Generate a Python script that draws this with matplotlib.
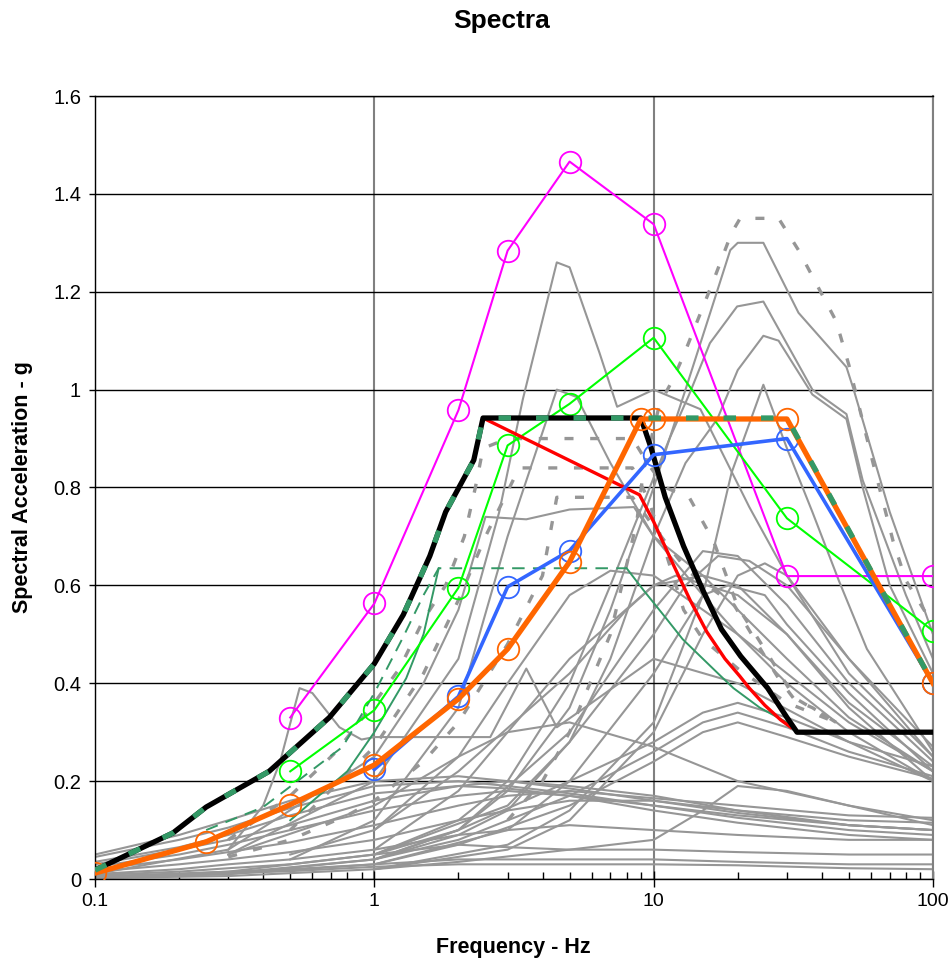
import matplotlib
matplotlib.use("Agg")
import matplotlib.pyplot as plt
from matplotlib.ticker import NullFormatter, LogLocator

plt.rcParams['font.family'] = ['Liberation Sans', 'DejaVu Sans']
plt.rcParams['lines.scale_dashes'] = False

# ---- highlighted spectra (frequency in Hz, acceleration in g) ----
magenta_f = [0.5, 1, 2, 3, 5, 10, 30, 100]
magenta_v = [0.33, 0.563, 0.958, 1.284, 1.466, 1.338, 0.619, 0.619]

lime_f = [0.5, 1, 2, 3, 5, 10, 30, 100]
lime_v = [0.22, 0.345, 0.595, 0.886, 0.971, 1.106, 0.737, 0.507]

blue_f = [1, 2, 3, 5, 10, 30, 100]
blue_v = [0.224, 0.373, 0.597, 0.671, 0.867, 0.90, 0.40]

orange_f = [0.1, 0.25, 0.5, 1, 2, 3, 5, 9, 10, 30, 100]
orange_v = [0.012, 0.076, 0.152, 0.233, 0.368, 0.47, 0.648, 0.94, 0.94, 0.94, 0.40]

black_f = [0.1, 0.19, 0.25, 0.42, 0.69, 1, 1.27, 1.58, 1.8, 2.27, 2.45, 9,
           9.8, 11, 12.8, 15, 17.5, 20.5, 25.6, 30, 32.6, 100]
black_v = [0.018, 0.094, 0.147, 0.22, 0.33, 0.44, 0.54, 0.66, 0.75, 0.856, 0.942, 0.942,
           0.88, 0.78, 0.68, 0.59, 0.51, 0.455, 0.39, 0.33, 0.30, 0.30]

envelope_f = [0.1, 0.19, 0.25, 0.42, 0.69, 1, 1.27, 1.58, 1.8, 2.27, 2.45, 30, 100]
envelope_v = [0.018, 0.094, 0.147, 0.22, 0.33, 0.44, 0.54, 0.66, 0.75, 0.856, 0.942, 0.942, 0.40]

red_f = [2.45, 8.9, 10, 11.7, 13.5, 15.5, 18, 20.3, 22, 25, 28.5, 31]
red_v = [0.942, 0.785, 0.73, 0.645, 0.57, 0.505, 0.45, 0.415, 0.39, 0.355, 0.325, 0.31]

sg_dash_f = [0.25, 0.4, 0.77, 1, 1.27, 1.5, 1.7, 8]
sg_dash_v = [0.10, 0.147, 0.27, 0.38, 0.495, 0.58, 0.635, 0.635]

sg_solid_f = [0.5, 0.8, 1, 1.3, 1.5, 1.7]
sg_solid_v = [0.12, 0.22, 0.30, 0.41, 0.50, 0.635]

sg_tail_f = [8, 9.2, 11, 12.7, 15, 17, 19.3, 24, 30, 32.6]
sg_tail_v = [0.635, 0.59, 0.535, 0.49, 0.45, 0.42, 0.39, 0.35, 0.32, 0.30]

# ---- grey background spectra ----
low_f = [0.1, 0.2, 0.3, 0.5, 1, 2, 3, 5, 10, 20, 50, 100]
grey_low = [
    [0.05, 0.09, 0.12, 0.16, 0.20, 0.21, 0.20, 0.185, 0.16, 0.135, 0.11, 0.10],
    [0.045, 0.08, 0.105, 0.145, 0.19, 0.20, 0.19, 0.175, 0.15, 0.125, 0.10, 0.09],
    [0.03, 0.06, 0.08, 0.11, 0.16, 0.19, 0.20, 0.19, 0.17, 0.14, 0.12, 0.115],
    [0.02, 0.04, 0.055, 0.075, 0.11, 0.15, 0.17, 0.18, 0.165, 0.15, 0.13, 0.125],
    [0.015, 0.03, 0.04, 0.055, 0.08, 0.12, 0.14, 0.16, 0.16, 0.14, 0.11, 0.10],
    [0.01, 0.02, 0.03, 0.04, 0.06, 0.09, 0.10, 0.11, 0.10, 0.09, 0.08, 0.08],
    [0.005, 0.01, 0.015, 0.02, 0.03, 0.04, 0.04, 0.04, 0.04, 0.035, 0.03, 0.03],
    [0.004, 0.008, 0.012, 0.016, 0.025, 0.03, 0.03, 0.03, 0.03, 0.028, 0.022, 0.02],
    [0.008, 0.015, 0.022, 0.03, 0.05, 0.07, 0.065, 0.06, 0.06, 0.055, 0.05, 0.05],
    [0.035, 0.065, 0.09, 0.13, 0.175, 0.19, 0.185, 0.17, 0.14, 0.115, 0.09, 0.08],
    [0.025, 0.05, 0.07, 0.10, 0.14, 0.17, 0.18, 0.17, 0.15, 0.13, 0.11, 0.10],
]

hump_f = [0.1, 0.3, 1, 2, 5, 10, 15, 20, 30, 50, 100]
grey_hump = [
    [0.005, 0.015, 0.05, 0.10, 0.20, 0.28, 0.34, 0.36, 0.33, 0.28, 0.23],
    [0.004, 0.012, 0.04, 0.08, 0.17, 0.26, 0.32, 0.34, 0.31, 0.26, 0.21],
    [0.003, 0.01, 0.03, 0.07, 0.15, 0.24, 0.30, 0.32, 0.29, 0.25, 0.205],
    [0.002, 0.006, 0.02, 0.035, 0.06, 0.08, 0.14, 0.19, 0.18, 0.15, 0.11],
]

grey_other = [
    ([0.3, 1, 2, 3, 5, 10, 20, 50, 100],
     [0.05, 0.15, 0.25, 0.30, 0.32, 0.27, 0.20, 0.15, 0.12]),
    ([0.1, 0.3, 1, 2, 3, 5, 7, 10, 13, 16, 18.8, 20, 24.7, 33, 49, 52, 70, 100],
     [0.002, 0.01, 0.04, 0.10, 0.18, 0.35, 0.55, 0.80, 1.0, 1.16, 1.285, 1.30, 1.30,
      1.157, 1.046, 1.0, 0.75, 0.50]),
    ([1, 2, 3, 5, 7, 10, 11.4, 13.4, 15.9, 19.9, 24.7, 37, 49, 56, 80, 100],
     [0.05, 0.12, 0.20, 0.40, 0.60, 0.82, 0.90, 0.99, 1.095, 1.17, 1.18, 1.0, 0.95,
      0.815, 0.58, 0.45]),
    ([1, 2, 3, 5, 7, 10, 13, 16.9, 20, 24.7, 28, 37, 49, 56, 70, 100],
     [0.04, 0.09, 0.14, 0.28, 0.45, 0.70, 0.85, 0.94, 1.04, 1.11, 1.10, 0.99, 0.94,
      0.80, 0.60, 0.42]),
    ([1, 3, 5, 10, 15, 19, 24.7, 30, 37, 46, 58, 100],
     [0.02, 0.07, 0.14, 0.32, 0.58, 0.83, 1.01, 0.88, 0.75, 0.61, 0.47, 0.26]),
    ([0.3, 1, 2, 2.8, 3.4, 4.5, 5, 6.4, 7.4, 10, 14.7, 22, 30, 50, 100],
     [0.05, 0.20, 0.45, 0.75, 0.98, 1.26, 1.25, 1.075, 0.965, 1.0, 0.96, 0.76, 0.62,
      0.42, 0.25]),
    ([0.5, 1, 2, 3, 4.5, 5.3, 7, 10, 15, 20, 30, 50, 100],
     [0.04, 0.12, 0.35, 0.70, 1.0, 0.985, 0.85, 0.70, 0.58, 0.50, 0.40, 0.30, 0.20]),
    ([1, 3, 5, 10, 15, 20, 25, 30, 50, 100],
     [0.02, 0.06, 0.12, 0.30, 0.50, 0.62, 0.645, 0.62, 0.45, 0.25]),
    ([1, 3, 5, 10, 15, 18.5, 25, 30, 50, 100],
     [0.03, 0.10, 0.20, 0.42, 0.58, 0.60, 0.58, 0.52, 0.38, 0.22]),
    ([1, 3, 5, 10, 13, 17, 22, 30, 50, 100],
     [0.05, 0.15, 0.28, 0.50, 0.60, 0.66, 0.65, 0.60, 0.45, 0.27]),
    ([1, 2, 5, 10, 15, 20, 30, 50, 100],
     [0.04, 0.10, 0.30, 0.55, 0.67, 0.66, 0.56, 0.40, 0.24]),
    ([0.5, 1, 2, 5, 8, 10, 15, 20, 30, 50, 100],
     [0.05, 0.10, 0.22, 0.42, 0.55, 0.60, 0.62, 0.60, 0.50, 0.35, 0.20]),
    ([0.3, 1, 1.5, 2, 2.5, 3.5, 5, 8.5, 10, 15, 20, 30, 50, 100],
     [0.06, 0.25, 0.40, 0.55, 0.74, 0.735, 0.755, 0.76, 0.70, 0.62, 0.55, 0.45, 0.33, 0.22]),
    ([0.1, 0.3, 0.4, 0.46, 0.54, 0.6, 0.75, 0.9, 1, 2.6, 3.5, 4.5, 6, 10, 20, 50, 100],
     [0.01, 0.06, 0.15, 0.24, 0.39, 0.38, 0.31, 0.285, 0.29, 0.29, 0.43, 0.31, 0.36,
      0.45, 0.40, 0.28, 0.20]),
    ([1, 2, 3, 5, 7, 10, 15, 20, 30, 50, 100],
     [0.10, 0.25, 0.40, 0.58, 0.63, 0.62, 0.55, 0.50, 0.42, 0.32, 0.22]),
    ([1, 2, 3, 5, 10, 12, 20, 30, 50, 100],
     [0.06, 0.18, 0.30, 0.45, 0.60, 0.62, 0.58, 0.50, 0.36, 0.23]),
]

grey_dashed = [
    ([3, 4, 5, 7, 8.7, 9.2, 10.5, 11.7, 12.8, 16.3, 19, 20.4, 28, 33, 45, 50, 61, 72, 80, 100],
     [0.12, 0.20, 0.30, 0.50, 0.73, 0.835, 0.97, 1.02, 1.07, 1.22, 1.32, 1.35, 1.35,
      1.285, 1.14, 1.05, 0.85, 0.69, 0.61, 0.52]),
    ([0.3, 0.5, 0.73, 1, 1.23, 1.5, 1.8, 2.1, 2.3, 2.45, 3, 8.4, 9.5, 11, 13.4, 16.4,
      20, 25.6, 32, 45],
     [0.08, 0.17, 0.26, 0.36, 0.43, 0.53, 0.60, 0.70, 0.80, 0.88, 0.90, 0.90, 0.85,
      0.80, 0.78, 0.69, 0.556, 0.46, 0.37, 0.32]),
    ([0.5, 1, 1.5, 2, 2.5, 3.3, 8.4, 9.5, 10.6, 12.8, 15, 20, 30, 45],
     [0.10, 0.27, 0.42, 0.57, 0.70, 0.84, 0.84, 0.78, 0.70, 0.55, 0.49, 0.43, 0.36, 0.32]),
    ([0.3, 0.5, 0.8, 1, 1.5, 2, 3, 4, 4.5, 8.4, 10, 13.2, 19.4, 24.7, 28, 32, 37, 45],
     [0.045, 0.08, 0.13, 0.16, 0.24, 0.32, 0.48, 0.62, 0.78, 0.78, 0.72, 0.63, 0.56,
      0.46, 0.41, 0.366, 0.35, 0.32]),
]

GREY = '#969696'
SEAGREEN = '#339966'

fig = plt.figure(figsize=(9.53, 9.63), dpi=100)
ax = fig.add_axes([95 / 953, 84 / 963, 838 / 953, 783 / 963])

for vals in grey_low:
    ax.plot(low_f, vals, color=GREY, lw=1.5, zorder=2)
for vals in grey_hump:
    ax.plot(hump_f, vals, color=GREY, lw=1.5, zorder=2)
for f, v in grey_other:
    ax.plot(f, v, color=GREY, lw=1.5, zorder=2)
for f, v in grey_dashed:
    ax.plot(f, v, color=GREY, lw=2.4, dashes=(6.5, 12), zorder=2.5)

circ = dict(marker='o', markersize=15.5, markerfacecolor='none', markeredgewidth=1.3)

ax.plot(magenta_f, magenta_v, color='#FF00FF', lw=1.5, markeredgecolor='#FF00FF', zorder=4, **circ)
ax.plot(lime_f, lime_v, color='#00FF00', lw=1.5, markeredgecolor='#00FF00', zorder=4, **circ)
ax.plot(sg_dash_f, sg_dash_v, color=SEAGREEN, lw=1.4, dashes=(9, 6), zorder=3)
ax.plot(sg_solid_f, sg_solid_v, color=SEAGREEN, lw=1.4, zorder=3)
ax.plot(sg_tail_f, sg_tail_v, color=SEAGREEN, lw=1.4, zorder=3)
ax.plot(red_f, red_v, color='#FF0000', lw=2.4, zorder=5)
ax.plot(black_f, black_v, color='black', lw=3.8, zorder=6, solid_joinstyle='round')
ax.plot(blue_f, blue_v, color='#3366FF', lw=2.6, markeredgecolor='#3366FF', zorder=7, **circ)
ax.plot(orange_f, orange_v, color='#FF6600', lw=3.8, markeredgecolor='#FF6600', zorder=8, **circ)
ax.plot(envelope_f, envelope_v, color=SEAGREEN, lw=3.8, dashes=(9, 18),
        dash_capstyle='butt', zorder=9)

ax.set_xscale('log')
ax.set_xlim(0.1, 100)
ax.set_ylim(0, 1.6)

ax.set_xticks([0.1, 1, 10, 100])
ax.set_xticklabels(['0.1', '1', '10', '100'])
ax.xaxis.set_minor_locator(LogLocator(base=10, subs=range(2, 10)))
ax.xaxis.set_minor_formatter(NullFormatter())
ax.set_yticks([0, 0.2, 0.4, 0.6, 0.8, 1.0, 1.2, 1.4, 1.6])
ax.set_yticklabels(['0', '0.2', '0.4', '0.6', '0.8', '1', '1.2', '1.4', '1.6'])

ax.tick_params(axis='y', direction='out', length=4, width=1, labelsize=14.5, pad=6)
ax.tick_params(axis='x', which='major', direction='inout', length=12, width=1,
               labelsize=14, pad=4)
ax.tick_params(axis='x', which='minor', direction='in', length=5, width=1)

ax.grid(True, axis='y', which='major', color='black', lw=1.0, zorder=1)
ax.grid(True, axis='x', which='major', color='#808080', lw=1.5, zorder=1)
ax.set_axisbelow(True)

for side in ['left', 'bottom', 'top']:
    ax.spines[side].set_color('black')
    ax.spines[side].set_linewidth(1.0)
ax.spines['right'].set_color('#808080')
ax.spines['right'].set_linewidth(1.5)

fig.text(502 / 953, 1 - 21 / 963, 'Spectra', ha='center', va='center',
         fontsize=19, fontweight='bold')
fig.text(513 / 953, 1 - 947 / 963, 'Frequency - Hz', ha='center', va='center',
         fontsize=15.5, fontweight='bold')
fig.text(23 / 953, 1 - 487 / 963, 'Spectral Acceleration - g', ha='center', va='center',
         rotation=90, fontsize=15.5, fontweight='bold')

fig.savefig('out.png', dpi=100)
